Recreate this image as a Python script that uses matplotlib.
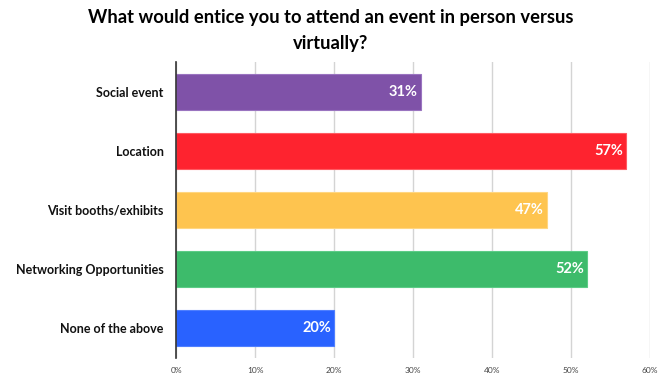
import matplotlib.pyplot as plt
from matplotlib.ticker import PercentFormatter

plt.rcParams['font.family'] = ['Lato', 'DejaVu Sans']

categories = ['Social event', 'Location', 'Visit booths/exhibits',
              'Networking Opportunities', 'None of the above']
values = [0.31, 0.57, 0.47, 0.52, 0.20]
colors = ['#7f52a8', '#fe232f', '#fec44f', '#3dbb6b', '#2962ff']
edges = ['#9a74c0', '#ff5a62', '#ffd680', '#5ccc86', '#4f7fff']
ticks = [0, 0.1, 0.2, 0.3, 0.4, 0.5, 0.6]

fig = plt.figure(figsize=(6.62, 3.76), dpi=100)
ax = fig.add_axes([0.266, 0.049, 0.716, 0.785])

y = list(range(len(categories)))
ax.barh(y, values, height=0.61, color=colors, edgecolor=edges, linewidth=0.8, zorder=3)
for yi, v in zip(y, values):
    ax.text(v - 0.004, yi, f'{round(v * 100)}%', ha='right', va='center',
            color='white', fontsize=10.5, fontweight='bold', zorder=4)

ax.set_xlim(0, 0.6)
ax.set_ylim(len(categories) - 0.5, -0.5)
ax.set_yticks(y)
ax.set_yticklabels(categories, fontsize=9, fontweight='bold', color='#111111')
ax.set_xticks(ticks)
ax.xaxis.set_major_formatter(PercentFormatter(1.0, decimals=0))
ax.tick_params(axis='x', labelsize=6, colors='#444444', length=0, pad=7)
ax.tick_params(axis='y', length=0, pad=9)
ax.grid(axis='x', color='#d4d4d4', linewidth=1, zorder=0)
ax.set_axisbelow(True)
for s in ['top', 'right', 'bottom']:
    ax.spines[s].set_visible(False)
ax.spines['left'].set_color('#333333')
ax.spines['left'].set_linewidth(1.2)
ax.spines['left'].set_zorder(5)

fig.text(0.5, 0.975, 'What would entice you to attend an event in person versus\nvirtually?',
         ha='center', va='top', fontsize=13.2, fontweight='bold', linespacing=1.6)

fig.savefig('out.png', dpi=100)
